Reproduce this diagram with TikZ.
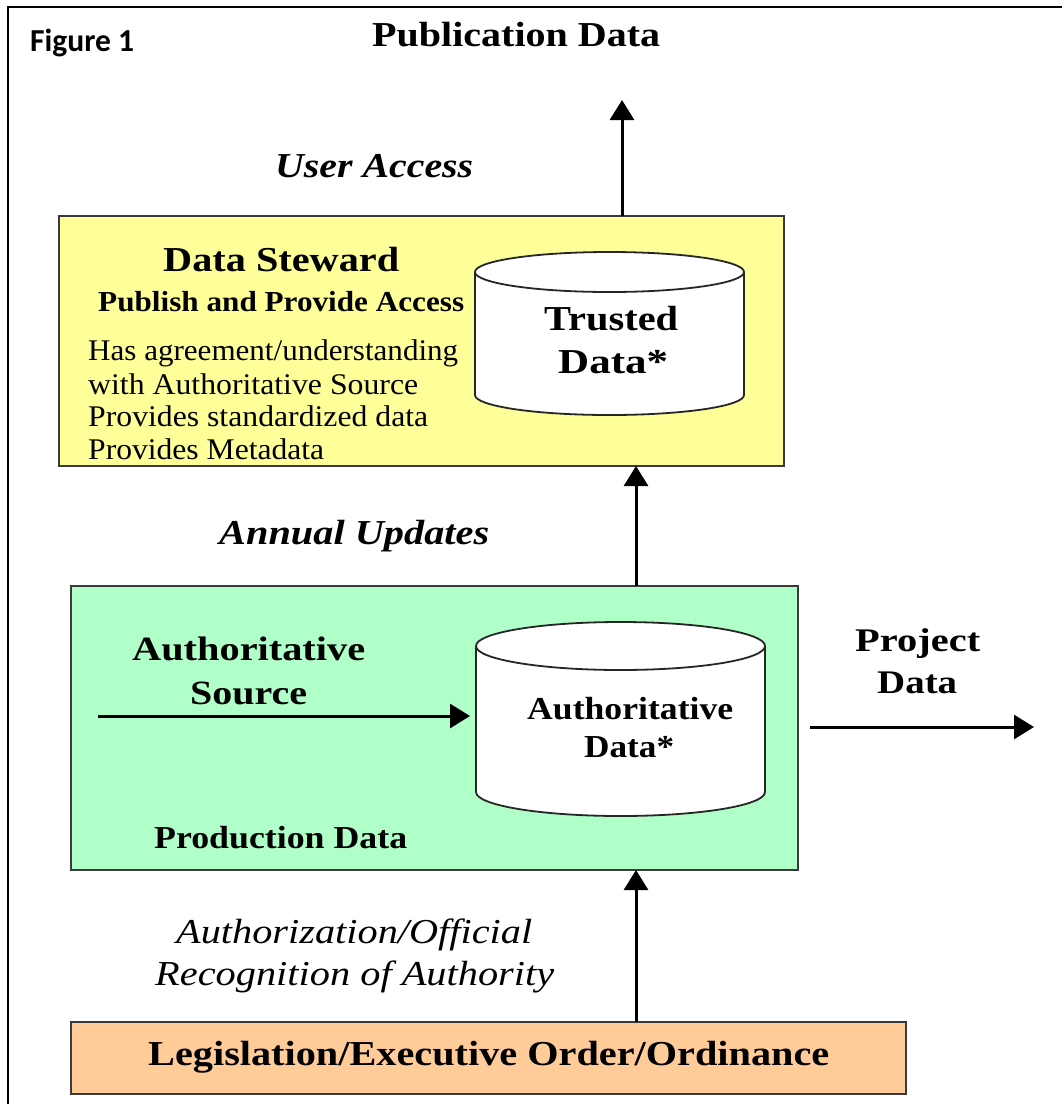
\documentclass[tikz,border=0pt]{standalone}
\usepackage{fontspec}
\usepackage{graphicx}
\setmainfont{Liberation Serif}
\newfontfamily\calfont{Carlito}
\usetikzlibrary{arrows.meta}
\definecolor{stewardfill}{HTML}{FFFF99}
\definecolor{sourcefill}{HTML}{B1FFC8}
\definecolor{lawfill}{HTML}{FFCC99}
\definecolor{edgegrey}{HTML}{3A3A3A}
\newcommand{\fitw}[2]{\resizebox{#1pt}{\height}{#2}}
\newcommand{\cylshape}[5]{% xl, xr, top centre y, bottom side y, ry
  \pgfmathsetmacro{\rxv}{(#2-#1)/2}
  \pgfmathsetmacro{\cxv}{(#1+#2)/2}
  \draw[cylline] (#1,#3) -- (#1,#4) arc[start angle=180,end angle=360,x radius=\rxv pt,y radius=#5pt] -- (#2,#3);
  \draw[cylline] (\cxv,#3) ellipse[x radius=\rxv pt,y radius=#5pt];
}
\tikzset{
  box/.style={draw=edgegrey,line width=2.4pt,inner sep=0pt,outer sep=0pt,anchor=north west},
  cylline/.style={draw=black!85,line width=1.8pt,fill=white},
  flow/.style={draw=black,line width=3pt,-{Triangle[length=20pt,width=24pt]}},
  lbl/.style={anchor=base west,inner sep=0pt,text=black},
  bsize/.style={font=\fontsize{35}{38}\selectfont\bfseries},
  bisize/.style={font=\fontsize{35}{38}\selectfont\bfseries\itshape},
  isize/.style={font=\fontsize{35}{38}\selectfont\itshape},
  rsize/.style={font=\fontsize{30}{32}\selectfont},
}
\begin{document}
\begin{tikzpicture}[x=1pt,y=-1pt]
\useasboundingbox (0,0) rectangle (1062,1104);
\fill[white] (0,0) rectangle (1062,1104);
\draw[black,line width=2pt] (7.5,1104) -- (7.5,6.5) -- (1062,6.5);
% boxes
\node[box,fill=stewardfill,minimum width=725pt,minimum height=250pt] (steward) at (59,216) {};
\node[box,fill=sourcefill,minimum width=727pt,minimum height=284pt] (source) at (71,586) {};
\node[box,fill=lawfill,minimum width=835pt,minimum height=72pt] (law) at (71,1022) {};
% cylinders
\cylshape{475}{744}{272}{395}{20}
\cylshape{476}{765}{646}{792}{24}
% coordinates
\coordinate (pubend) at (622,100);
\coordinate (midx) at (636,0);
\coordinate (srcstart) at (98,716);
\coordinate (srcend) at (470,716);
\coordinate (projstart) at (810,727);
\coordinate (projend) at (1034,727);
% connectors
\draw[flow] (steward.north -| pubend) -- (pubend);
\draw[flow] (source.north -| midx) -- (steward.south -| midx);
\draw[flow] (law.north -| midx) -- (source.south -| midx);
\draw[flow] (srcstart) -- (srcend);
\draw[flow] (projstart) -- (projend);
% labels
\node[lbl,font=\fontsize{32}{34}\selectfont\calfont\bfseries] (fig) at (30,51) {\fitw{104}{Figure 1}};
\node[lbl,bsize] (pub) at (372,46) {\fitw{288}{Publication Data}};
\node[lbl,bisize] (user) at (275,177) {\fitw{198}{User Access}};
\node[lbl,bsize] (ds) at (163,271) {\fitw{236}{Data Steward}};
\node[lbl,font=\fontsize{29}{31}\selectfont\bfseries] (ppa) at (98,311) {\fitw{366}{Publish and Provide Access}};
\node[lbl,rsize] (h1) at (88,360) {\fitw{370}{Has agreement/understanding}};
\node[lbl,rsize] (h2) at (88,394) {\fitw{330}{with Authoritative Source}};
\node[lbl,rsize] (h3) at (88,426) {\fitw{340}{Provides standardized data}};
\node[lbl,rsize] (h4) at (88,459) {\fitw{236}{Provides Metadata}};
\node[lbl,font=\fontsize{35}{37}\selectfont\bfseries] (tr) at (544,330) {\fitw{134}{Trusted}};
\node[lbl,font=\fontsize{35}{37}\selectfont\bfseries] (td) at (558,373) {\fitw{110}{Data*}};
\node[lbl,bisize] (au) at (219,544) {\fitw{270}{Annual Updates}};
\node[lbl,font=\fontsize{34}{36}\selectfont\bfseries] (as1) at (132,660) {\fitw{233}{Authoritative}};
\node[lbl,font=\fontsize{34}{36}\selectfont\bfseries] (as2) at (190,704) {\fitw{117}{Source}};
\node[lbl,font=\fontsize{32}{34}\selectfont\bfseries] (pd) at (154,848) {\fitw{253}{Production Data}};
\node[lbl,font=\fontsize{32}{34}\selectfont\bfseries] (ad1) at (527,719) {\fitw{206}{Authoritative}};
\node[lbl,font=\fontsize{32}{34}\selectfont\bfseries] (ad2) at (584,757) {\fitw{90}{Data*}};
\node[lbl,font=\fontsize{33}{35}\selectfont\bfseries] (pr1) at (855,651) {\fitw{125}{Project}};
\node[lbl,font=\fontsize{33}{35}\selectfont\bfseries] (pr2) at (877,693) {\fitw{80}{Data}};
\node[lbl,isize] (am1) at (176,943) {\fitw{356}{Authorization/Official}};
\node[lbl,isize] (am2) at (155,985) {\fitw{399}{Recognition of Authority}};
\node[lbl,font=\fontsize{35}{37}\selectfont\bfseries] (lg) at (148,1065) {\fitw{681}{Legislation/Executive Order/Ordinance}};
\end{tikzpicture}
\end{document}
